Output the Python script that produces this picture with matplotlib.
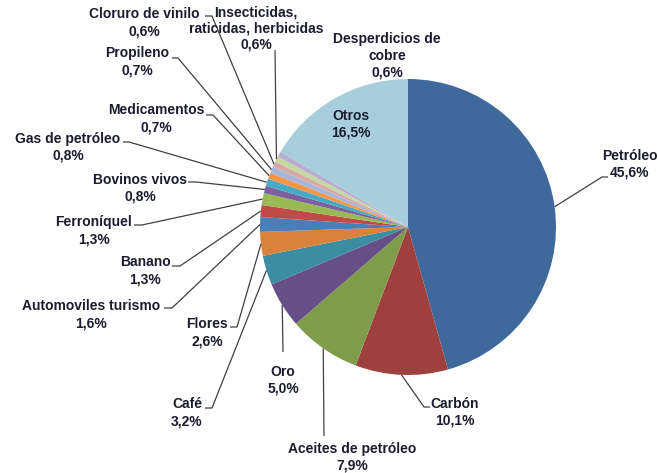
import matplotlib
matplotlib.use("Agg")
import matplotlib.pyplot as plt
import numpy as np

# Exportaciones por producto (%)
productos = ["Petróleo", "Carbón", "Aceites de petróleo", "Oro", "Café", "Flores",
             "Automoviles turismo", "Banano", "Ferroníquel", "Bovinos vivos",
             "Gas de petróleo", "Medicamentos", "Propileno", "Cloruro de vinilo",
             "Insecticidas,\nraticidas, herbicidas", "Desperdicios de\ncobre", "Otros"]
valores = [45.6, 10.1, 7.9, 5.0, 3.2, 2.6, 1.6, 1.3, 1.3, 0.8, 0.8, 0.7, 0.7, 0.6, 0.6, 0.6, 16.5]
etiquetas = ["45,6%", "10,1%", "7,9%", "5,0%", "3,2%", "2,6%", "1,6%", "1,3%", "1,3%", "0,8%",
             "0,8%", "0,7%", "0,7%", "0,6%", "0,6%", "0,6%", "16,5%"]

colores = ["#3E699A", "#9E403D", "#7E9C4A", "#664E86", "#3B8DA4", "#D8823C",
           "#4A7EBB", "#BE4B48", "#98B954", "#7D60A0", "#46AAC5", "#F79646",
           "#A5B6DA", "#D8A8A7", "#C4D8A0", "#B9AED0", "#A9CEDB"]

W, H = 658, 473

def Y(py):
    return H - py

# posicion del texto (pixeles) y linea guia: inicio, codo (o None)
texto_pos = [(630, 164), (455, 412), (352, 457), (283, 380), (187, 413), (207, 333),
             (91, 315), (145, 271), (94, 231), (140, 188), (68, 147), (156, 119),
             (137, 62), (144, 23), (256, 29), (387, 56), (351, 124)]
interlineado = [17] * 17
interlineado[14] = 16
guias = [((608, 177), (602, 177)), ((430, 407), (424, 407)), ((324, 436), None),
         ((283, 352), None), ((205, 408), (212, 408)), ((230, 327), (237, 327)),
         ((164, 308), (172, 308)), ((172, 266), (180, 266)), ((134, 225), (142, 225)),
         ((188, 182), (196, 182)), ((123, 142), (129, 142)), ((206, 115), (213, 115)),
         ((172, 58), (178, 58)), ((205, 16), (212, 16)), ((275, 50), None),
         None, None]

fig = plt.figure(figsize=(W / 100, H / 100), dpi=100)
ax = fig.add_axes([0, 0, 1, 1])

cx, cy, r = 408, Y(227), 148
wedges, _ = ax.pie(valores, colors=colores, startangle=90, counterclock=False,
                   center=(cx, cy), radius=r, wedgeprops=dict(linewidth=0))
ax.set_xlim(0, W)
ax.set_ylim(0, H)
ax.set_aspect("equal")
ax.axis("off")

for i, w in enumerate(wedges):
    tx, ty = texto_pos[i]
    lineas = productos[i].split("\n") + [etiquetas[i]]
    n = len(lineas)
    for k, linea in enumerate(lineas):
        yk = ty + (k - (n - 1) / 2) * interlineado[i]
        ax.text(tx, Y(yk), linea, ha="center", va="center",
                fontsize=10, fontweight="bold", family="Liberation Sans",
                color="#1c1c30")
    g = guias[i]
    if g is None:
        continue
    ang = np.deg2rad((w.theta1 + w.theta2) / 2)
    px, py = cx + r * np.cos(ang), cy + r * np.sin(ang)
    xs = [g[0][0]]
    ys = [Y(g[0][1])]
    if g[1] is not None:
        xs.append(g[1][0])
        ys.append(Y(g[1][1]))
    xs.append(px)
    ys.append(py)
    ax.plot(xs, ys, color="#404040", linewidth=0.9, solid_capstyle="butt")

fig.savefig("out.png", dpi=100)
